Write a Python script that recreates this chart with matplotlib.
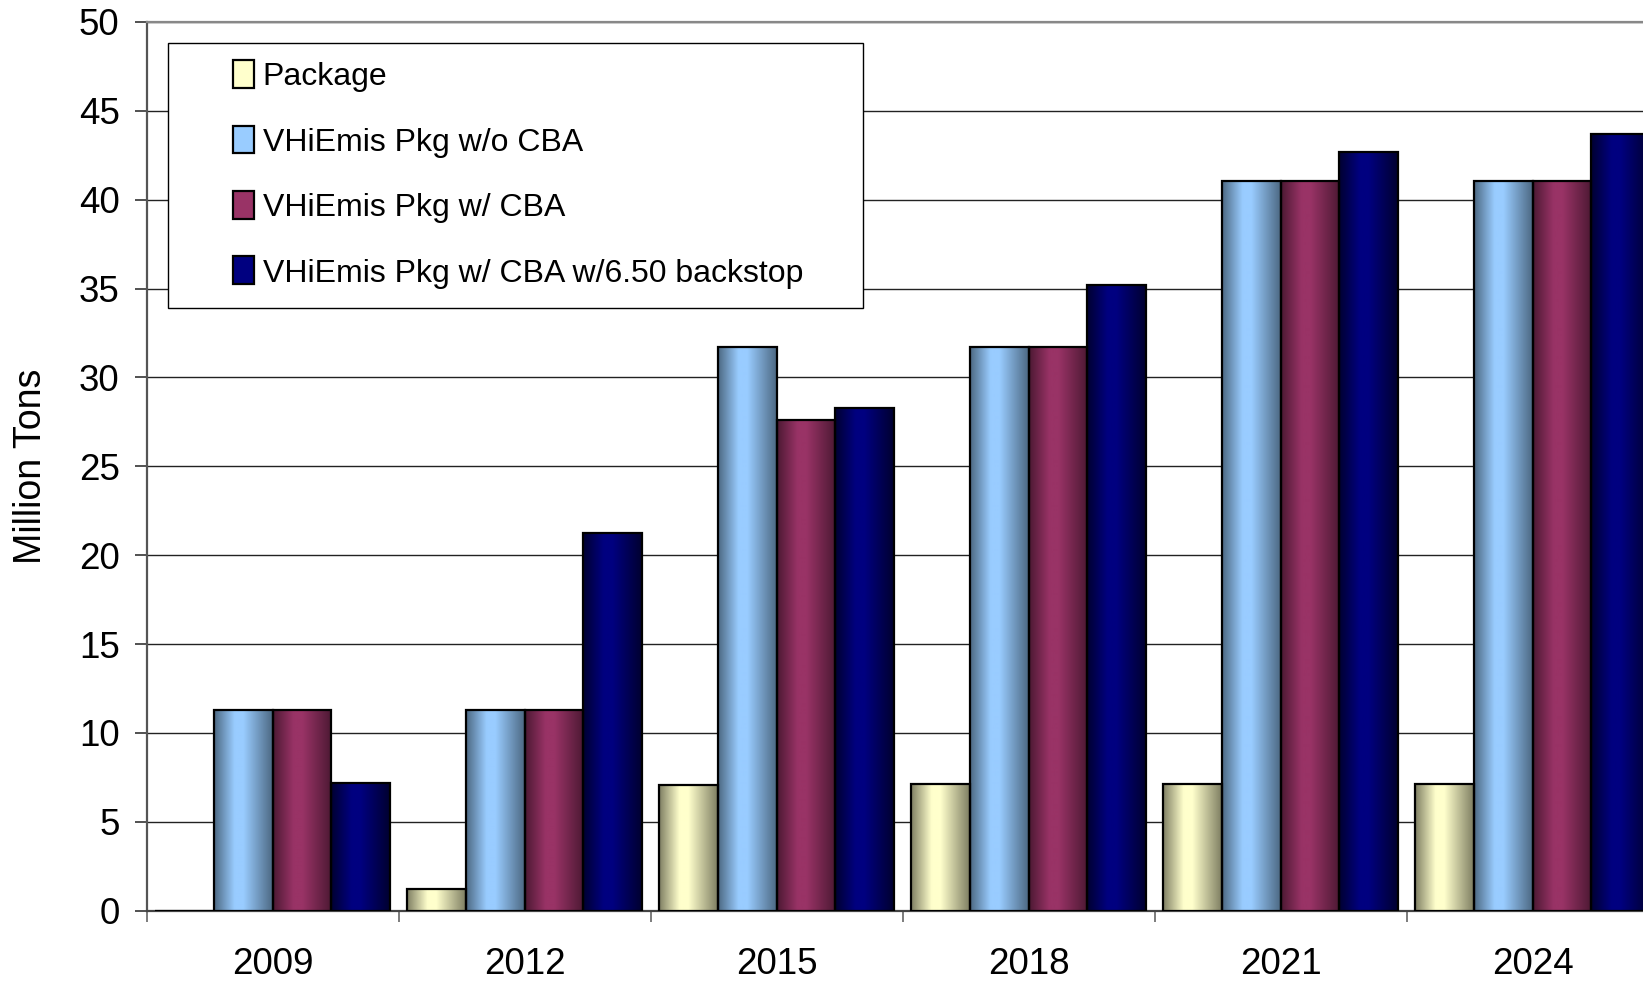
import numpy as np
import matplotlib.pyplot as plt
from matplotlib.colors import LinearSegmentedColormap
from matplotlib.legend_handler import HandlerBase
from matplotlib.patches import Rectangle

years = ['2009', '2012', '2015', '2018', '2021', '2024']
labels = ['Package', 'VHiEmis Pkg w/o CBA', 'VHiEmis Pkg w/ CBA',
          'VHiEmis Pkg w/ CBA w/6.50 backstop']
package = [0, 1.24, 7.08, 7.13, 7.13, 7.13]
no_cba = [11.26, 11.26, 31.72, 31.72, 41.04, 41.04]
with_cba = [11.26, 11.26, 27.6, 31.72, 41.04, 41.04]
backstop = [7.19, 21.23, 28.3, 35.2, 42.69, 43.69]

light = ['#FFFFCC', '#99CCFF', '#993366', '#000080']
dark = ['#7E7E62', '#4C6882', '#4C1933', '#000030']

plt.rcParams['font.family'] = ['Liberation Sans', 'DejaVu Sans']

fig = plt.figure(figsize=(16.43, 9.81), dpi=100)
W, H = 1643, 981
ax = fig.add_axes([146.7 / W, 1 - 910.6 / H, 1512 / W, (910.6 - 22) / H])

x = np.arange(len(years))
bw = 0.233
grad = np.linspace(0, 1, 256).reshape(1, -1)
for i, vals in enumerate([package, no_cba, with_cba, backstop]):
    cmap = LinearSegmentedColormap.from_list(
        'g%d' % i, [(0, dark[i]), (0.35, light[i]), (0.5, light[i]), (1, dark[i])])
    bars = ax.bar(x + (i - 1.5) * bw, vals, bw, facecolor='none',
                  edgecolor='black', linewidth=1.6, zorder=4)
    for b in bars:
        if b.get_height() <= 0:
            continue
        ax.imshow(grad, extent=[b.get_x(), b.get_x() + b.get_width(), 0, b.get_height()],
                  aspect='auto', cmap=cmap, zorder=3, interpolation='bilinear')

ax.set_xlim(-0.5, len(years) - 0.5)
ax.set_ylim(0, 50)
ax.set_yticks(np.arange(0, 51, 5))
ax.yaxis.grid(True, color='#222222', linewidth=1.0, zorder=0)
ax.set_axisbelow(True)
ax.tick_params(axis='y', labelsize=26.5, length=8.5, width=1.2, color='#333333', pad=11)

ax.set_xticks(x)
ax.set_xticklabels(years)
ax.set_xticks(np.arange(-0.5, len(years), 1), minor=True)
ax.tick_params(axis='x', which='major', length=0, labelsize=26.5, pad=26)
ax.tick_params(axis='x', which='minor', length=8, width=1.2, color='#666666')

ax.spines['right'].set_visible(False)
ax.spines['left'].set_color('#555555')
ax.spines['left'].set_linewidth(1.6)
ax.spines['bottom'].set_color('#444444')
ax.spines['bottom'].set_linewidth(1.6)
ax.spines['top'].set_color('#888888')
ax.spines['top'].set_linewidth(1.6)

fig.text(31 / W, 1 - 466 / H, 'Million Tons', rotation=90, ha='center', va='center',
         fontsize=27)


class SquareHandler(HandlerBase):
    def create_artists(self, legend, orig_handle, xdescent, ydescent,
                       width, height, fontsize, trans):
        w, h = 15, 20
        p = Rectangle((width - w - xdescent, (height - h) / 2 - ydescent), w, h,
                      facecolor=orig_handle.get_facecolor(), edgecolor='black',
                      linewidth=1.6, transform=trans)
        return [p]


handles = [Rectangle((0, 0), 1, 1, facecolor=c) for c in light]
leg = ax.legend(handles, labels, loc='upper left', mode='expand',
                bbox_to_anchor=(167.6 / W, 1 - 304 / H, (863 - 167.6) / W, (304 - 43) / H),
                bbox_transform=fig.transFigure, borderaxespad=0,
                handler_map={Rectangle: SquareHandler()},
                prop={'size': 23},
                handlelength=2.11, handletextpad=0.27, borderpad=0.6, labelspacing=1.11,
                fancybox=False, framealpha=1, edgecolor='black')
leg.get_frame().set_linewidth(1.0)
leg.set_zorder(10)

fig.savefig('out.png', dpi=100)
